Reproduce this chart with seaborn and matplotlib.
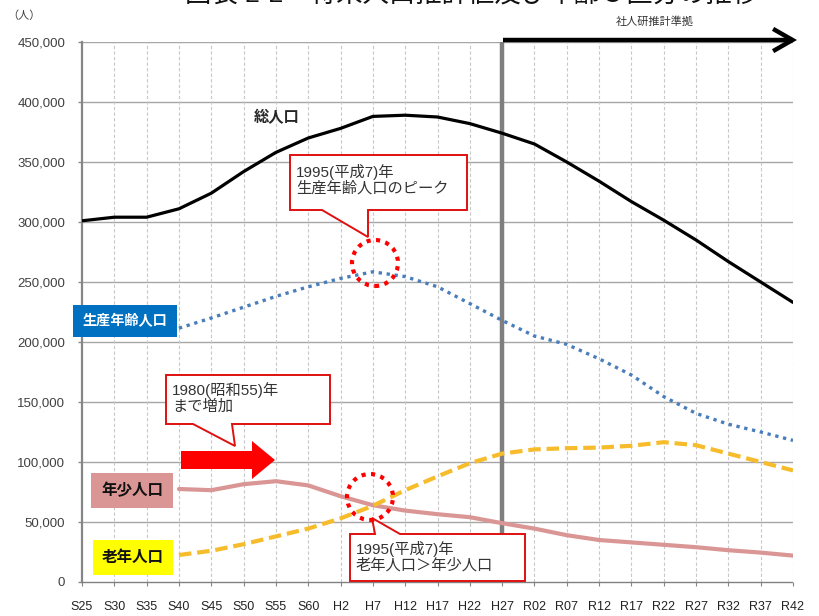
import numpy as np
import pandas as pd
import matplotlib
matplotlib.use("Agg")
import matplotlib.pyplot as plt
import matplotlib.patches as mpatches
import matplotlib.transforms as mtransforms
import seaborn as sns

# ---------------- data ----------------
periods = ["S25", "S30", "S35", "S40", "S45", "S50", "S55", "S60", "H2", "H7", "H12",
           "H17", "H22", "H27", "R02", "R07", "R12", "R17", "R22", "R27", "R32", "R37", "R42"]
total_pop = [301000, 304000, 304000, 311000, 324000, 342000, 358000, 370000, 378000, 388000, 389000,
             387500, 382000, 374000, 365000, 350000, 334000, 317000, 301500, 285000, 267000, 250000, 233000]
working_pop = [np.nan, np.nan, np.nan, 211500, 220000, 229000, 238000, 246000, 253000, 258500, 254500,
               246000, 232000, 218000, 205000, 198000, 186000, 172500, 154500, 140500, 131500, 125000, 118000]
young_pop = [np.nan, np.nan, np.nan, 77500, 76500, 81500, 84000, 80500, 71500, 64000, 59500,
             56500, 54000, 49000, 44500, 39000, 35000, 33000, 31000, 29000, 26500, 24500, 22000]
elderly_pop = [np.nan, np.nan, np.nan, 22500, 26000, 31500, 38000, 44500, 53000, 63500, 76500,
               88000, 99000, 107000, 110500, 111500, 112000, 113500, 116500, 114000, 107000, 100000, 93000]

y_ticks = [0, 50000, 100000, 150000, 200000, 250000, 300000, 350000, 400000, 450000]
title_text = "図表 2-2　将来人口推計値及び年齢３区分の推移"
unit_text = "（人）"
projection_text = "社人研推計準拠"
label_total = "総人口"
label_working = "生産年齢人口"
label_young = "年少人口"
label_elderly = "老年人口"
note_1980 = "1980(昭和55)年\nまで増加"
note_peak = "1995(平成7)年\n生産年齢人口のピーク"
note_cross = "1995(平成7)年\n老年人口＞年少人口"
projection_start = "H27"

df = pd.DataFrame({"idx": np.arange(len(periods)), "period": periods,
                   "total": total_pop, "working": working_pop,
                   "young": young_pop, "elderly": elderly_pop})

# ---------------- style ----------------
sns.set_theme(style="white")
plt.rcParams["font.family"] = ["Liberation Sans", "Noto Sans CJK JP", "DejaVu Sans"]

W, H = 819, 616
fig = plt.figure(figsize=(W / 100, H / 100), dpi=100)
ax = fig.add_axes([82 / W, 34 / H, (793 - 82) / W, 540 / H])


def fp(x, y):
    """image pixel (top-left origin) -> figure fraction"""
    return (x / W, 1 - y / H)


# grid
for yt in y_ticks[1:]:
    ax.axhline(yt, color="#a6a6a6", lw=1.0, zorder=1)
for i in range(1, len(periods)):
    ax.axvline(i, color="#c8c8c8", lw=0.8, ls=(0, (3, 2)), zorder=1)

# projection marker line
p_idx = periods.index(projection_start)
ax.plot([p_idx, p_idx], [0, 450000], color="#7f7f7f", lw=3.2, zorder=2, solid_capstyle="butt")

# series
sns.lineplot(data=df, x="idx", y="working", ax=ax, color="#4a7ebb", lw=2.4,
             linestyle=(0, (1, 1.4)), zorder=4)
sns.lineplot(data=df, x="idx", y="young", ax=ax, color="#d99694", lw=3.0, zorder=4)
sns.lineplot(data=df, x="idx", y="elderly", ax=ax, color="#f6bc2c", lw=3.0,
             linestyle=(0, (3, 1.4)), zorder=4)
sns.lineplot(data=df, x="idx", y="total", ax=ax, color="black", lw=2.3, zorder=5)

ax.set_xlim(0, len(periods) - 1)
ax.set_ylim(0, 450000)
ax.set_xlabel("")
ax.set_ylabel("")
ax.set_xticks(df["idx"])
ax.set_xticklabels(periods, fontsize=9, color="#222222")
ax.set_yticks(y_ticks)
ax.set_yticklabels([f"{v:,}" for v in y_ticks], fontsize=9.5, color="#404040")
ax.tick_params(axis="y", direction="out", length=3, width=1, color="#868686", pad=9, left=True)
ax.tick_params(axis="x", direction="out", length=3, width=0.8, color="#868686", pad=11, bottom=True)

for s in ["top", "right"]:
    ax.spines[s].set_visible(False)
ax.spines["left"].set_color("#868686")
ax.spines["left"].set_linewidth(1.6)
ax.spines["bottom"].set_color("#808080")
ax.spines["bottom"].set_linewidth(1.0)
ax.spines["bottom"].set_linestyle((0, (1, 1)))

# arrow along top for projection
ax.annotate("", xy=(793 / 1 , 0), xycoords="figure pixels", xytext=(0, 0), textcoords="figure pixels",
            alpha=0)
arr = mpatches.FancyArrowPatch(posA=(503, H - 40), posB=(797, H - 40),
                               arrowstyle="->,head_length=14,head_width=8",
                               lw=3.2, color="black", transform=mtransforms.IdentityTransform(),
                               shrinkA=0, shrinkB=0, mutation_scale=1, capstyle="butt",
                               joinstyle="miter")
fig.add_artist(arr)

# texts
fig.text(185 / W, 1 + 5 / H, title_text, fontsize=19, va="center", ha="left", color="#111111")
fig.text(*fp(24, 16), unit_text, fontsize=8, va="center", ha="center", color="#404040")
fig.text(*fp(655, 22), projection_text, fontsize=8, va="center", ha="center", color="#333333")
fig.text(*fp(277, 118), label_total, fontsize=11, fontweight="bold", va="center", ha="center")


def add_box(x0, y0, x1, y1, fc, text, tc, fs):
    rect = mpatches.Rectangle(fp(x0, y1), (x1 - x0) / W, (y1 - y0) / H,
                              transform=fig.transFigure, facecolor=fc, edgecolor="none", zorder=6)
    fig.add_artist(rect)
    fig.text(*fp((x0 + x1) / 2, (y0 + y1) / 2), text, fontsize=fs, fontweight="bold",
             color=tc, ha="center", va="center", zorder=7)


add_box(73, 305, 177, 337, "#0070c0", label_working, "white", 10.2)
add_box(91, 473, 173, 508, "#d99694", label_young, "#111111", 11.2)
add_box(93, 540, 173, 575, "#ffff00", label_elderly, "#111111", 11.2)


def add_callout(verts, text, tx, ty):
    poly = mpatches.Polygon([fp(x, y) for x, y in verts], closed=True, transform=fig.transFigure,
                            facecolor="white", edgecolor="#e01010", lw=1.4, zorder=8)
    fig.add_artist(poly)
    fig.text(*fp(tx, ty), text, fontsize=11, color="#333333", ha="left", va="center",
             linespacing=1.1, zorder=9)


add_callout([(290, 155), (467, 155), (467, 210), (368, 210), (368, 237), (322, 210), (290, 210)],
            note_peak, 296, 180)
add_callout([(166, 375), (330, 375), (330, 424), (232, 424), (235, 446), (193, 424), (166, 424)],
            note_1980, 172, 398)
add_callout([(350, 534), (375, 534), (372, 518), (400, 534), (525, 534), (525, 581), (350, 581)],
            note_cross, 356, 557)

# red fat arrow
arrow_pts = [(181, 451), (252, 451), (252, 441), (275, 460), (252, 479), (252, 469), (181, 469)]
fig.add_artist(mpatches.Polygon([fp(x, y) for x, y in arrow_pts], closed=True,
                                transform=fig.transFigure, facecolor="#ff0000",
                                edgecolor="none", zorder=8))

# dotted circles
for cx, cy in [(375, 263), (370, 497)]:
    c = mpatches.Circle((cx, H - cy), 23, transform=mtransforms.IdentityTransform(),
                        fill=False, edgecolor="#ff0000", lw=3.0, linestyle=(0, (1, 1.3)), zorder=9)
    fig.add_artist(c)

fig.savefig("out.png", dpi=100)
